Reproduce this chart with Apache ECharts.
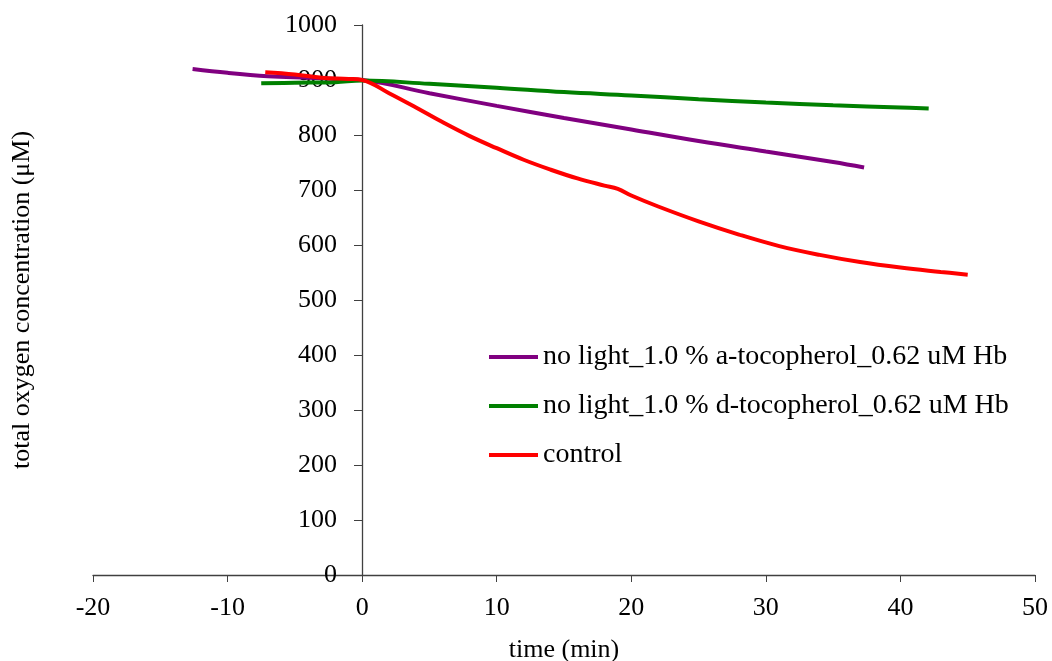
<!DOCTYPE html>
<html><head><meta charset="utf-8">
<script src="https://cdn.jsdelivr.net/npm/echarts@6/dist/echarts.min.js"></script>
<style>html,body{margin:0;padding:0;background:#fff}#c{width:1052px;height:661px}</style>
</head><body><div id="c"></div>
<script>
const seriesNames = ['no light_1.0 % a-tocopherol_0.62 uM Hb','no light_1.0 % d-tocopherol_0.62 uM Hb','control'];
const xTicks = [-20,-10,0,10,20,30,40,50];
const yTicks = [0,100,200,300,400,500,600,700,800,900,1000];
const aTocoph = [[-12.6,920],[-10,913],[-7,907],[-4,904],[-2,902],[0,900],[5,876],[10,853],[15,831],[20,810],[25,789],[30,770],[35,751],[37.3,741]];
const dTocoph = [[-7.5,894],[-5,895],[-2,896],[0,899],[5,893],[10,886],[15,878],[20,872],[25,865],[30,859],[35,854],[40,850],[42.1,848]];
const control = [[-7.2,914],[-5,910],[-3,904],[-1,902],[0,900],[2,876],[4,850],[6,823],[8,798],[10,776],[12,755],[14,737],[16,721],[18,708],[19,702],[20,690],[22,670],[25,643],[28,619],[31,598],[34,582],[37,569],[40,559],[43,551],[45,546]];
const colors = ['#800080','#008000','#ff0000'];
const font = 'Liberation Serif';
const fs = 26;
const chart = echarts.init(document.getElementById('c'));
chart.setOption({
  animation:false,
  textStyle:{fontFamily:font},
  grid:{left:93,right:17,top:25,bottom:86,containLabel:false,outerBoundsMode:'none'},
  legend:{orient:'vertical',left:484,top:338,itemGap:21,itemWidth:49,itemHeight:4,icon:'rect',
    data:seriesNames,textStyle:{fontFamily:font,fontSize:28,color:'#000'}},
  xAxis:{type:'value',min:xTicks[0],max:xTicks[xTicks.length-1],interval:10,
    name:'time (min)',nameLocation:'middle',nameGap:62,nameTextStyle:{fontFamily:font,fontSize:fs,color:'#000'},
    axisLine:{onZero:false,lineStyle:{color:'#404040',width:1.3}},axisTick:{show:true,inside:false,length:7,lineStyle:{color:'#404040'}},
    axisLabel:{fontFamily:font,fontSize:fs,color:'#000',margin:20,formatter:v=>String(v)},splitLine:{show:false}},
  yAxis:{type:'value',min:yTicks[0],max:yTicks[yTicks.length-1],interval:100,position:'left',offset:-269,
    name:'total oxygen concentration (μM)',nameLocation:'middle',nameGap:327,nameRotate:90,nameTextStyle:{fontFamily:font,fontSize:fs,color:'#000'},
    axisLine:{onZero:false,lineStyle:{color:'#404040',width:1.3}},axisTick:{show:true,length:8,lineStyle:{color:'#404040'}},
    axisLabel:{fontFamily:font,fontSize:fs,color:'#000',margin:25,formatter:v=>String(v)},splitLine:{show:false}},
  series:[
    {name:seriesNames[0],type:'line',data:aTocoph,showSymbol:false,smooth:0.4,lineStyle:{width:4,color:colors[0]},itemStyle:{color:colors[0]}},
    {name:seriesNames[1],type:'line',data:dTocoph,showSymbol:false,smooth:0.4,lineStyle:{width:4,color:colors[1]},itemStyle:{color:colors[1]}},
    {name:seriesNames[2],type:'line',data:control,showSymbol:false,smooth:0.4,lineStyle:{width:4,color:colors[2]},itemStyle:{color:colors[2]}}
  ]
});
</script></body></html>
